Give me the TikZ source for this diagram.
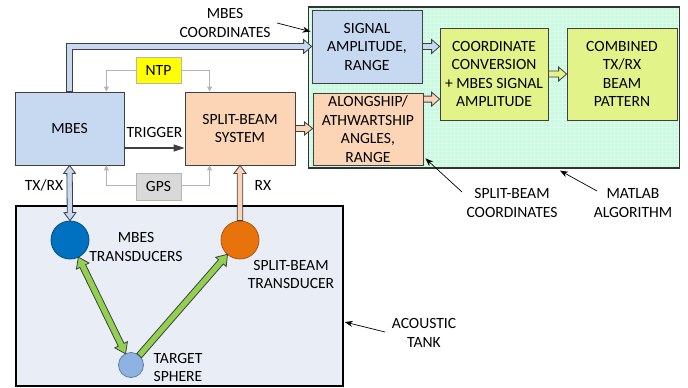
\documentclass[tikz,border=0pt]{standalone}
\usepackage{fontspec}
\setmainfont{Carlito}
\usetikzlibrary{calc,arrows.meta}
\definecolor{mbesblue}{HTML}{C6D9F1}
\definecolor{peach}{HTML}{FBD5B5}
\definecolor{limefill}{HTML}{E2F38A}
\definecolor{mint}{HTML}{C8FAE0}
\definecolor{mintline}{HTML}{DDFCEC}
\definecolor{tankfill}{HTML}{E9EEF6}
\definecolor{boxline}{HTML}{404040}
\definecolor{tdblue}{HTML}{0070C0}
\definecolor{tdorange}{HTML}{E8720C}
\definecolor{sphere}{HTML}{8DB3E2}
\definecolor{arrgreen}{HTML}{92D050}
\definecolor{ntpyellow}{HTML}{FFFF00}
\definecolor{gpsgray}{HTML}{D9D9D9}
\definecolor{thingray}{HTML}{B4B4B4}

% block arrow: style, start, end, half shaft, half head, head length
\newcommand{\blockarrow}[6]{%
  \coordinate (ba1) at #2; \coordinate (ba2) at #3;
  \coordinate (bah) at ($(ba2)!#6!(ba1)$);
  \draw[#1] ($(ba1)!#4!90:(ba2)$) -- ($(bah)!#4!90:(ba2)$) -- ($(bah)!#5!90:(ba2)$)
    -- (ba2) -- ($(bah)!#5!-90:(ba2)$) -- ($(bah)!#4!-90:(ba2)$) -- ($(ba1)!#4!-90:(ba2)$) -- cycle;}
% double-headed block arrow
\newcommand{\dblockarrow}[6]{%
  \coordinate (ba1) at #2; \coordinate (ba2) at #3;
  \coordinate (bah) at ($(ba2)!#6!(ba1)$);
  \coordinate (bat) at ($(ba1)!#6!(ba2)$);
  \draw[#1] (ba1) -- ($(bat)!#5!90:(ba2)$) -- ($(bat)!#4!90:(ba2)$) -- ($(bah)!#4!90:(ba2)$) -- ($(bah)!#5!90:(ba2)$)
    -- (ba2) -- ($(bah)!#5!-90:(ba2)$) -- ($(bah)!#4!-90:(ba2)$) -- ($(bat)!#4!-90:(ba2)$) -- ($(bat)!#5!-90:(ba2)$) -- cycle;}

\tikzset{
  every node/.style={font=\fontsize{15.6}{18.5}\selectfont, inner sep=0pt, align=center},
  box/.style={draw=boxline, line width=0.8pt, rectangle},
  smallbox/.style={draw=thingray, line width=0.8pt, minimum width=45pt, minimum height=26pt},
  tdc/.style={circle, line width=0.8pt},
  bluearr/.style={fill=mbesblue, draw=boxline, line width=0.8pt, line join=miter},
  peacharr/.style={fill=peach, draw=boxline, line width=0.8pt},
  limearr/.style={fill=limefill, draw=boxline, line width=0.8pt},
  greenarr/.style={fill=arrgreen, draw=boxline, line width=0.8pt},
  grayline/.style={draw=thingray, line width=0.9pt, -{Triangle[length=5pt,width=5pt]}},
  noteline/.style={draw=black, line width=0.7pt, -{Stealth[length=8pt,width=6pt]}},
  trigline/.style={draw=boxline, line width=1.3pt, -{Triangle[length=11pt,width=7pt]}}
}

\begin{document}
\begin{tikzpicture}[x=1pt, y=-1pt]
\useasboundingbox (0,0) rectangle (688,388);

% containers
\node[draw=black, line width=1.5pt, fill=tankfill, minimum width=327pt, minimum height=180pt] (tank) at (179.5,296) {};
\node[draw=boxline!80!black, line width=1.2pt, fill=mint, minimum width=371pt, minimum height=161pt,
  path picture={\draw[mintline, line width=0.6pt, step=4pt] (path picture bounding box.south west) grid (path picture bounding box.north east);}] (matlab) at (494,87.5) {};

% boxes
\node[box, fill=mbesblue, minimum width=109pt, minimum height=73pt] (mbes) at (69.5,128.5) {MBES};
\node[box, fill=peach, minimum width=110pt, minimum height=73pt] (split) at (240,128.5) {SPLIT-BEAM\\SYSTEM};
\node[smallbox, fill=ntpyellow] (ntp) at (158.5,70) {NTP};
\node[smallbox, fill=gpsgray, minimum height=27pt] (gps) at (158.5,186.5) {GPS};

\node[box, fill=mbesblue, minimum width=110pt, minimum height=73pt] (sig) at (367,46.5) {SIGNAL\\AMPLITUDE,\\RANGE};
\node[box, fill=peach, minimum width=110pt, minimum height=72pt] (along) at (368,129) {ALONGSHIP/\\ATHWARTSHIP\\ANGLES,\\RANGE};
\node[box, fill=limefill, minimum width=108pt, minimum height=92pt] (coord) at (494,74) {COORDINATE\\CONVERSION\\+ MBES SIGNAL\\AMPLITUDE};
\node[box, fill=limefill, minimum width=110pt, minimum height=92pt] (comb) at (622,74) {COMBINED\\TX/RX\\BEAM\\PATTERN};

% transducers
\node[tdc, fill=tdblue, draw=tdblue!70!black, minimum size=38pt] (mt) at (70,240) {};
\node[tdc, fill=tdorange, draw=tdorange!75!black, minimum size=38pt] (st) at (240,240) {};
\node[tdc, fill=sphere, draw=sphere!70!black, minimum size=25pt] (tg) at (131,365) {};

% labels
\node (lmt) at (136,247) {MBES\\TRANSDUCERS};
\node (lst) at (291,274.5) {SPLIT-BEAM\\TRANSDUCER};
\node (ltg) at (178,367.5) {TARGET\\SPHERE};
\node (trig) at (154.5,132) {TRIGGER};
\node (ltx) at (44,185) {TX/RX};
\node (lrx) at (263,185) {RX};
\node (lmc) at (225,23) {MBES\\COORDINATES};
\node (lsc) at (512,203) {SPLIT-BEAM\\COORDINATES};
\node (lma) at (633,203) {MATLAB\\ALGORITHM};
\node (lat) at (424,333) {ACOUSTIC\\TANK};

% gray sync lines
\draw[grayline] (ntp.west) -| ($(mbes.north east)+(-18,0)$);
\draw[grayline] (ntp.east) -| ($(split.north west)+(25,0)$);
\draw[grayline] ([yshift=1.5pt]gps.west) -| ($(mbes.south east)+(-18,0)$);
\draw[grayline] ([yshift=1.5pt]gps.east) -| ($(split.south west)+(25,0)$);

% trigger
\draw[trigline] ([yshift=-19.5pt]mbes.east) -- ([yshift=-19.5pt]split.west);

% MBES coordinates L-shaped block arrow
\draw[bluearr] let \p1=(mbes.north), \p2=(sig.west) in
  (\x1-3pt,\y1) -- (\x1-3pt,\y2+3pt) -- (\x2-8pt,\y2+3pt) -- (\x2-8pt,\y2+7pt) -- (\x2,\y2)
  -- (\x2-8pt,\y2-7pt) -- (\x2-8pt,\y2-3pt) -- (\x1+3pt,\y2-3pt) -- (\x1+3pt,\y1) -- cycle;

% block arrows
\blockarrow{peacharr}{(split.east)}{(split.east -| along.west)}{3pt}{6.5pt}{8pt}
\blockarrow{bluearr}{(sig.east)}{(sig.east -| coord.west)}{3pt}{7pt}{8pt}
\blockarrow{peacharr}{([yshift=-6.5pt]along.north east)}{([yshift=-6.5pt]along.north east -| coord.west)}{3pt}{7pt}{8pt}
\blockarrow{limearr}{(coord.east)}{(comb.west)}{3pt}{7pt}{8pt}
\dblockarrow{bluearr}{(mbes.south)}{(mt.north)}{2.7pt}{6pt}{8pt}
\blockarrow{peacharr}{(st.north)}{(split.south)}{2.7pt}{6pt}{8pt}

% acoustic paths
\dblockarrow{greenarr}{($(mt.center)!19pt!(tg.center)$)}{($(tg.center)!12.5pt!(mt.center)$)}{3.2pt}{7pt}{10pt}
\blockarrow{greenarr}{($(tg.center)!12.5pt!(st.center)$)}{($(st.center)!19pt!(tg.center)$)}{3.2pt}{7pt}{10pt}

% annotation arrows
\coordinate (nmc) at (277,23);
\coordinate (nsc) at (462,192);
\coordinate (nma) at (597,191);
\coordinate (nat) at (385,332);
\draw[noteline] (nmc) -- ($(sig.north west)+(-1,22)$);
\draw[noteline] (nsc) -- ($(along.south east)+(2,-7)$);
\draw[noteline] (nma) -- ($(matlab.south)+(66,2)$);
\draw[noteline] (nat) -- ($(tank.east)+(1,26)$);
\end{tikzpicture}
\end{document}
